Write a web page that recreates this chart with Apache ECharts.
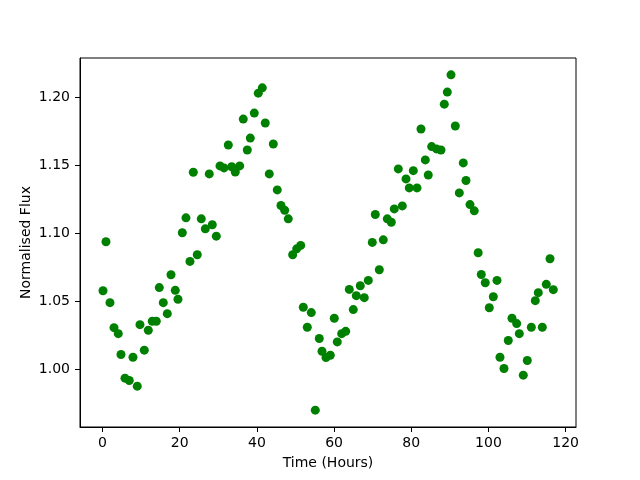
<!DOCTYPE html>
<html>
<head>
<meta charset="utf-8">
<script src="https://cdn.jsdelivr.net/npm/echarts@6/dist/echarts.min.js"></script>
<style>
  html, body { margin: 0; padding: 0; background: #fff; }
</style>
</head>
<body>
<div id="chart" style="width: 640px; height: 480px;"></div>
<script>
// time in hours
var hours = [
  0.12, 0.89, 1.93, 2.97, 4.08, 4.78, 5.82, 6.93, 7.89, 9.00,
  9.70, 10.82, 11.86, 12.89, 13.93, 14.71, 15.74, 16.78, 17.74, 18.85,
  19.55, 20.67, 21.62, 22.66, 23.52, 24.55, 25.59, 26.63, 27.66, 28.44,
  29.48, 30.44, 31.47, 32.59, 33.47, 34.40, 35.54, 36.47, 37.51, 38.29,
  39.32, 40.36, 41.40, 42.17, 43.21, 44.25, 45.28, 46.24, 47.20, 48.13,
  49.27, 50.31, 51.35, 52.02, 53.06, 54.09, 55.13, 56.17, 56.87, 57.90,
  59.02, 60.05, 60.83, 61.97, 63.01, 63.94, 64.98, 65.76, 66.79, 67.83,
  68.87, 69.90, 70.68, 71.72, 72.75, 73.79, 74.83, 75.60, 76.64, 77.68,
  78.64, 79.49, 80.53, 81.49, 82.52, 83.64, 84.41, 85.29, 86.54, 87.70,
  88.56, 89.34, 90.30, 91.41, 92.45, 93.48, 94.18, 95.22, 96.33, 97.34,
  98.15, 99.18, 100.22, 101.26, 102.22, 102.99, 104.03, 105.14, 106.10, 107.32,
  108.00, 109.03, 110.07, 111.11, 112.14, 112.92, 113.96, 114.99, 115.95, 116.81
];
// normalised flux
var flux = [
  1.0576, 1.0937, 1.0488, 1.0304, 1.0260, 1.0106, 0.9932, 0.9915, 1.0086, 0.9873,
  1.0326, 1.0138, 1.0285, 1.0351, 1.0351, 1.0599, 1.0488, 1.0407, 1.0694, 1.0579,
  1.0513, 1.1003, 1.1113, 1.0792, 1.1449, 1.0841, 1.1106, 1.1032, 1.1437, 1.1062,
  1.0978, 1.1496, 1.1481, 1.1650, 1.1490, 1.1451, 1.1496, 1.1841, 1.1613, 1.1701,
  1.1885, 1.2032, 1.2071, 1.1812, 1.1437, 1.1657, 1.1319, 1.1204, 1.1169, 1.1106,
  1.0841, 1.0885, 1.0910, 1.0454, 1.0307, 1.0415, 0.9696, 1.0224, 1.0130, 1.0084,
  1.0101, 1.0373, 1.0199, 1.0260, 1.0277, 1.0586, 1.0437, 1.0540, 1.0613, 1.0525,
  1.0652, 1.0932, 1.1138, 1.0731, 1.0951, 1.1106, 1.1081, 1.1179, 1.1474, 1.1201,
  1.1400, 1.1334, 1.1461, 1.1334, 1.1768, 1.1540, 1.1429, 1.1638, 1.1621, 1.1613,
  1.1951, 1.2040, 1.2167, 1.1790, 1.1297, 1.1518, 1.1388, 1.1211, 1.1165, 1.0856,
  1.0696, 1.0635, 1.0451, 1.0532, 1.0652, 1.0086, 1.0003, 1.0209, 1.0373, 1.0334,
  1.0260, 0.9954, 1.0062, 1.0307, 1.0503, 1.0562, 1.0307, 1.0623, 1.0812, 1.0584
];
var xTicks = [0, 20, 40, 60, 80, 100, 120];
var yTicks = [1.00, 1.05, 1.10, 1.15, 1.20];

var points = [];
for (var i = 0; i < hours.length; i++) {
  points.push([hours[i], flux[i]]);
}

var chart = echarts.init(document.getElementById('chart'));
var font = 'DejaVu Sans';
var option = {
  animation: false,
  backgroundColor: '#fff',
  grid: {
    left: 80, right: 64, top: 58, bottom: 53,
    show: true, borderColor: '#000', borderWidth: 1, backgroundColor: 'transparent'
  },
  xAxis: {
    type: 'value',
    min: -5.84,
    max: 122.69,
    name: 'Time (Hours)',
    nameLocation: 'middle',
    nameGap: 29,
    nameMoveOverlap: false,
    nameTextStyle: { color: '#000', fontSize: 14, fontFamily: font },
    axisLine: { show: true, onZero: false, lineStyle: { color: '#000', width: 1 } },
    axisTick: { show: true, inside: false, length: 5, customValues: xTicks, lineStyle: { color: '#000' } },
    axisLabel: { color: '#000', fontSize: 14, fontFamily: font, margin: 9, customValues: xTicks },
    splitLine: { show: false }
  },
  yAxis: {
    type: 'value',
    min: 0.9572,
    max: 1.2291,
    name: 'Normalised Flux',
    nameLocation: 'middle',
    nameGap: 47,
    nameMoveOverlap: false,
    nameTextStyle: { color: '#000', fontSize: 14, fontFamily: font },
    axisLine: { show: true, onZero: false, lineStyle: { color: '#000', width: 1 } },
    axisTick: { show: true, inside: false, length: 5, customValues: yTicks, lineStyle: { color: '#000' } },
    axisLabel: {
      color: '#000', fontSize: 14, fontFamily: font, margin: 10, customValues: yTicks,
      formatter: function (v) { return v.toFixed(2); }
    },
    splitLine: { show: false }
  },
  series: [{
    type: 'scatter',
    data: points,
    symbol: 'circle',
    symbolSize: 9,
    itemStyle: { color: '#008000', opacity: 1 }
  }]
};
chart.setOption(option);
</script>
</body>
</html>
